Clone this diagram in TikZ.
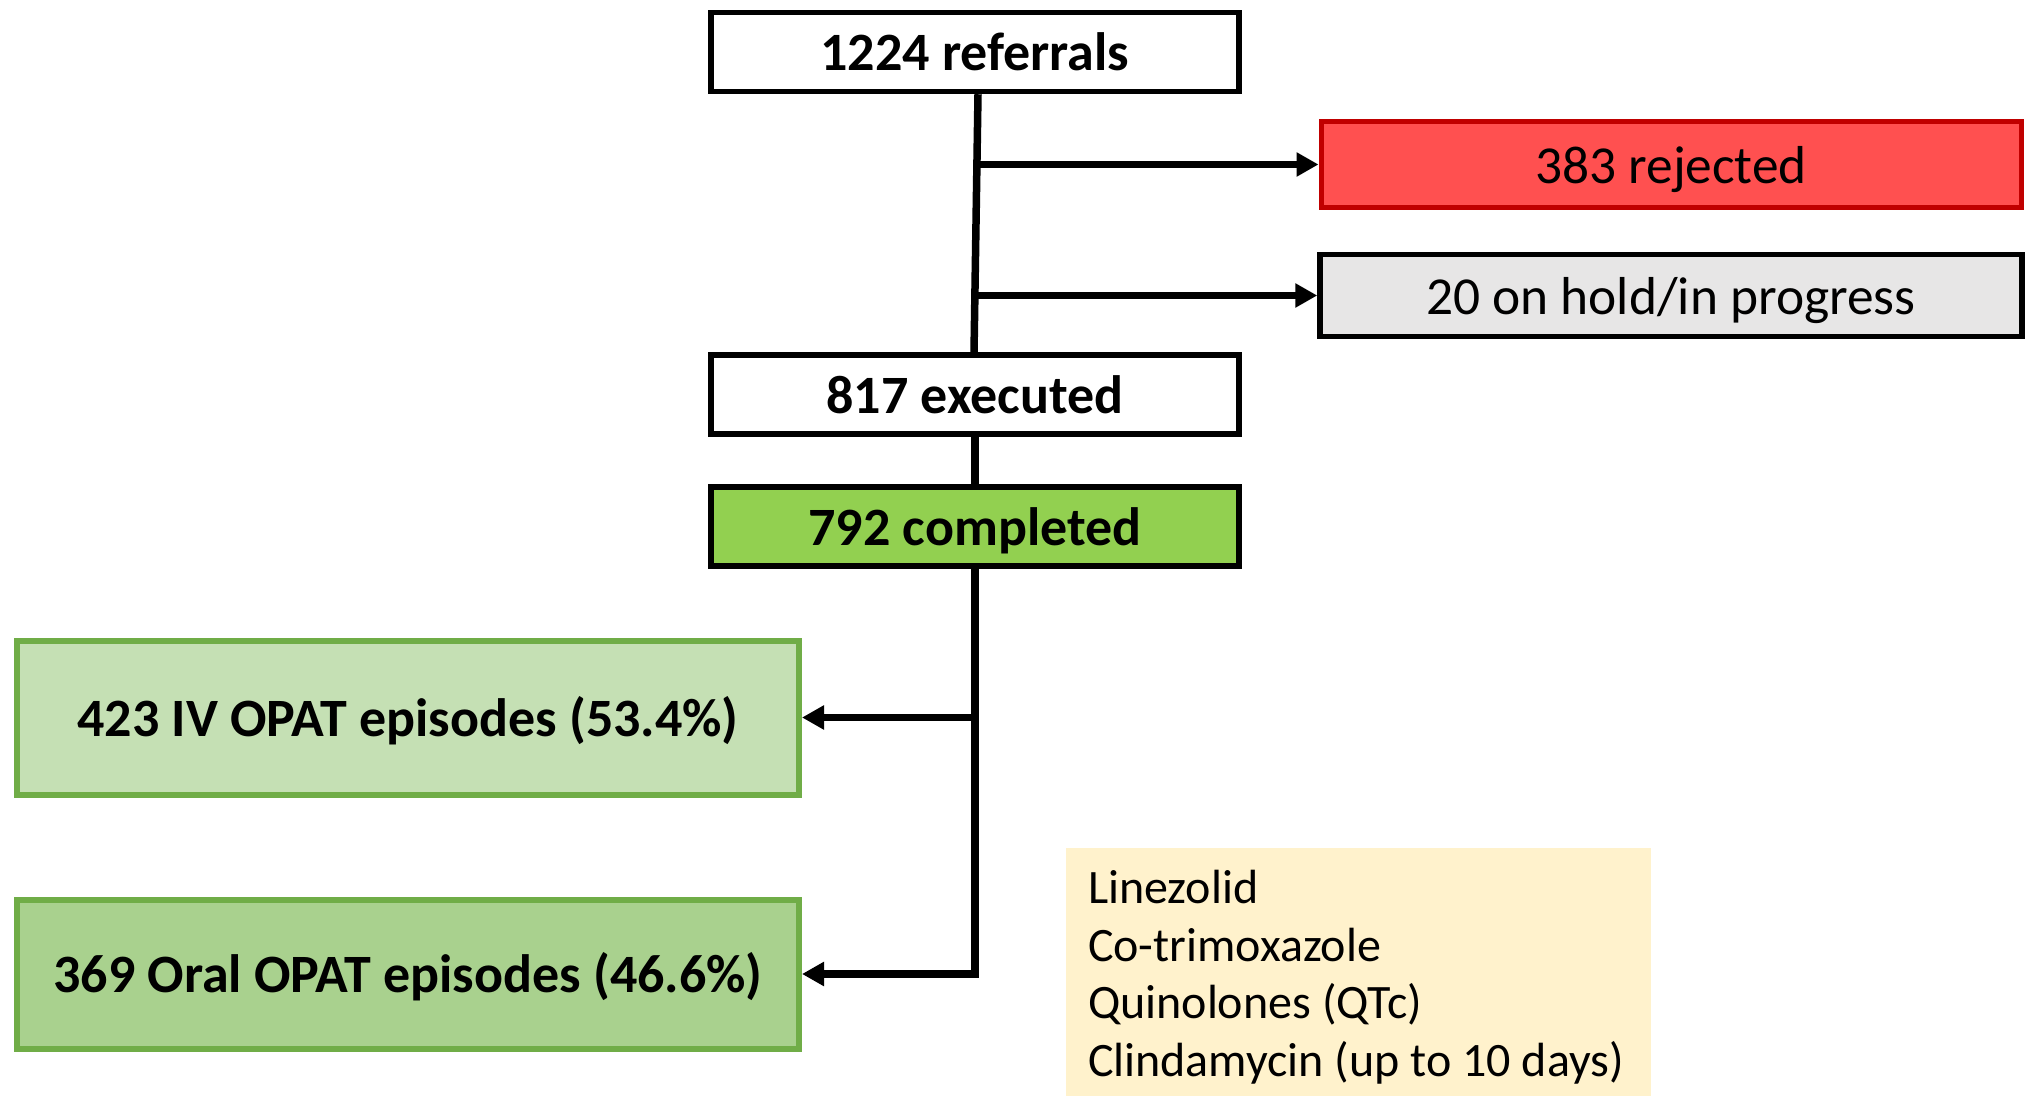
\documentclass[tikz,border=0pt]{standalone}
\usepackage{fontspec}
\setmainfont{Carlito}
\usetikzlibrary{arrows.meta}
\definecolor{rejfill}{HTML}{FF5050}
\definecolor{rejline}{HTML}{C00000}
\definecolor{holdfill}{HTML}{E7E6E6}
\definecolor{compfill}{HTML}{92D050}
\definecolor{ivfill}{HTML}{C5E0B4}
\definecolor{oralfill}{HTML}{A9D18E}
\definecolor{greenline}{HTML}{70AD47}
\definecolor{notefill}{HTML}{FFF2CC}
\tikzset{
  lbl/.style={text height=20pt, text depth=1.3pt},
  mainbox/.style={lbl, draw=black, line width=2.75pt, fill=white, minimum width=264pt, minimum height=39.5pt, inner sep=0pt, font=\fontsize{27}{32}\selectfont\bfseries},
  sidebox/.style={lbl, line width=2.75pt, minimum width=351pt, minimum height=41pt, inner sep=0pt, font=\fontsize{26.7}{32}\selectfont},
  outbox/.style={lbl, draw=greenline, line width=3pt, minimum width=391pt, inner sep=0pt, font=\fontsize{27}{32}\selectfont\bfseries},
  conn/.style={line width=3.75pt, draw=black},
  arr/.style={conn, -{Triangle[length=11pt,width=11.5pt]}},
}
\begin{document}
\begin{tikzpicture}[x=0.5pt,y=-0.5pt]
\useasboundingbox (0,0) rectangle (2029,1096);
\node[mainbox] (ref) at (975,52) {1224 referrals};
\node[sidebox, draw=rejline, line width=2.5pt, fill=rejfill, minimum width=350pt, minimum height=43pt] (rej) at (1671,164.5) {383 rejected};
\node[sidebox, draw=black, fill=holdfill] (hold) at (1671,295.5) {20 on hold/in progress};
\node[mainbox] (exe) at (975,394.5) {817 executed};
\node[mainbox, fill=compfill] (comp) at (975,526.5) {792 completed};
\node[outbox, fill=ivfill, minimum height=77pt] (iv) at (408,717.5) {423 IV OPAT episodes (53.4\%)};
\node[outbox, fill=oralfill, minimum height=74.5pt] (oral) at (408,974) {369 Oral OPAT episodes (46.6\%)};
\node[fill=notefill, minimum width=292.5pt, minimum height=124pt, inner sep=0pt] (note) at (1358.5,972) {};
\node[inner xsep=0pt, inner ysep=0pt, text width=272.5pt, align=flush left, font=\fontsize{24}{28.75}\selectfont] (notetext) at ([xshift=1pt,yshift=-2.6pt]note.center) {Linezolid\\Co-trimoxazole\\Quinolones (QTc)\\Clindamycin (up to 10 days)};
\draw[conn] ([xshift=1.5pt]ref.south) -- ([xshift=-0.5pt]exe.north);
\draw[arr] ([xshift=1.1pt]ref.south |- rej.west) -- (rej.west);
\draw[arr] ([xshift=0pt]ref.south |- hold.west) -- (hold.west);
\draw[conn] (exe.south) -- (comp.north);
\draw[conn] (comp.south) -- ([yshift=-1.875pt]comp.south |- oral.east);
\draw[arr] ([xshift=1.875pt]comp.south |- iv.east) -- (iv.east);
\draw[arr] ([xshift=1.875pt]comp.south |- oral.east) -- (oral.east);
\end{tikzpicture}
\end{document}
